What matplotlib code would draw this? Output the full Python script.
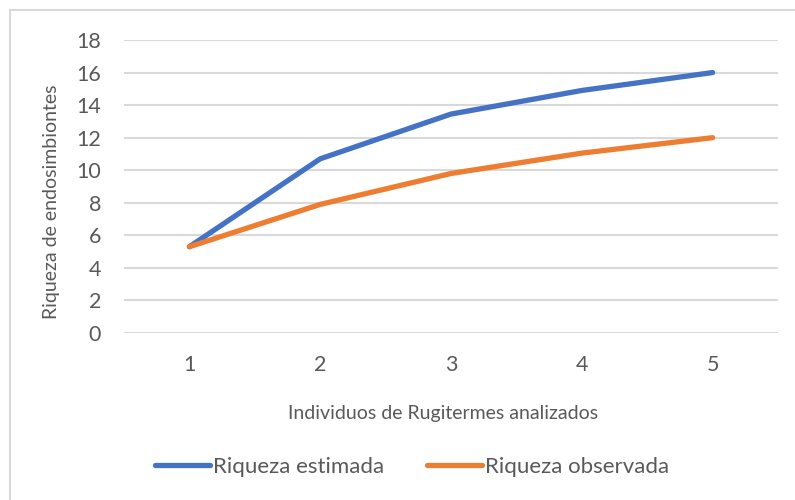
import matplotlib
matplotlib.use('Agg')

import matplotlib.pyplot as plt
from matplotlib.patches import Rectangle
from matplotlib.lines import Line2D

individuos = [1, 2, 3, 4, 5]
estimada = [5.3, 10.7, 13.45, 14.9, 16.0]
observada = [5.3, 7.9, 9.8, 11.05, 12.0]

BLUE = '#4472C4'
ORANGE = '#ED7D31'
GREY_TXT = '#595959'
GRID = '#D9D9D9'

plt.rcParams['font.family'] = ['Lato', 'DejaVu Sans']

W, H = 795, 500
fig = plt.figure(figsize=(W / 100, H / 100), dpi=100)

# chart area border
fig.patches.append(Rectangle((10 / W, -0.1), 1.2, 1 - 10 / H + 0.1,
                             transform=fig.transFigure, fill=False,
                             edgecolor=GRID, linewidth=1.5))

ax = fig.add_axes([124 / W, 1 - 333 / H, (778 - 124) / W, (333 - 40) / H])
ax.plot(individuos, estimada, color=BLUE, linewidth=3.8,
        solid_capstyle='round', solid_joinstyle='round', zorder=3)
ax.plot(individuos, observada, color=ORANGE, linewidth=3.8,
        solid_capstyle='round', solid_joinstyle='round', zorder=3)

ax.set_xlim(0.5, 5.5)
ax.set_ylim(0, 18)
ax.set_yticks(range(0, 19, 2))
ax.set_xticks(individuos)
ax.yaxis.grid(True, color=GRID, linewidth=1.5)
ax.set_axisbelow(True)
for s in ax.spines.values():
    s.set_visible(False)
ax.tick_params(length=0, labelsize=15.5, colors=GREY_TXT)
ax.tick_params(axis='y', pad=16.5)
ax.tick_params(axis='x', pad=16)

ax.set_ylabel('Riqueza de endosimbiontes', fontsize=14, color=GREY_TXT,
              va='center', ha='center')
ax.yaxis.set_label_coords(52 / W, 1 - 202 / H, transform=fig.transFigure)
ax.set_xlabel('Individuos de Rugitermes analizados', fontsize=14,
              color=GREY_TXT, va='center', ha='center')
ax.xaxis.set_label_coords(443 / W, 1 - 413 / H, transform=fig.transFigure)

handles = [Line2D([], [], color=BLUE, linewidth=3.8, solid_capstyle='round'),
           Line2D([], [], color=ORANGE, linewidth=3.8, solid_capstyle='round')]
fig.legend(handles, ['Riqueza estimada', 'Riqueza observada'],
           loc='center', bbox_to_anchor=(412 / W, 1 - 467 / H), ncol=2,
           frameon=False, fontsize=16, labelcolor=GREY_TXT,
           handlelength=2.5, handletextpad=0.13, columnspacing=1.9)

fig.savefig('out.png', dpi=100)
